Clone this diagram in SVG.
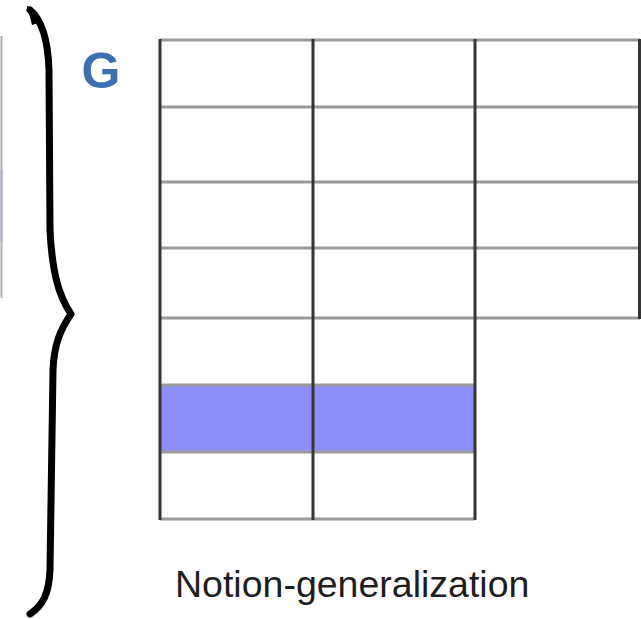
<svg xmlns="http://www.w3.org/2000/svg" width="641" height="619" viewBox="0 0 641 619">
  <style>
    .h { stroke: #9a9a9a; stroke-width: 3; }
    .v { stroke: #353535; stroke-width: 3; }
    .brace { fill: none; stroke: #000; stroke-width: 7; stroke-linecap: round; stroke-linejoin: round; }
    .label { font-family: "Liberation Sans", Arial, sans-serif; }
  </style>
  <rect width="641" height="619" fill="#fff"/>

  <!-- edge of the neighbouring table -->
  <g id="left-edge">
    <rect x="0" y="170" width="3" height="72" fill="#d8d8f4"/>
    <line x1="1.5" y1="36" x2="1.5" y2="298" stroke="#b0b0b0" stroke-width="2"/>
  </g>

  <!-- curly brace -->
  <g id="brace">
    <path class="brace" d="M30 10 C42 20 48 40 49 70 L50 230 C52 270 58 295 71 314 C60 330 54 345 53 370 L50 570 C49 595 42 606 30 614"/>
    <path d="M27 6 C34 8 39 14 41 22 L32 25 C30 16 28 12 27 6 Z" fill="#000"/>
  </g>

  <!-- group label -->
  <g id="label-g">
    <text class="label" x="101" y="88" text-anchor="middle" font-size="50" font-weight="bold" fill="#3a70b2">G</text>
  </g>

  <!-- table grid -->
  <g id="table">
    <rect x="160" y="385" width="315" height="67" fill="#8e8efa"/>
    <line class="h" x1="160" y1="40" x2="640" y2="40"/>
    <line class="h" x1="160" y1="107" x2="640" y2="107"/>
    <line class="h" x1="160" y1="182" x2="640" y2="182"/>
    <line class="h" x1="160" y1="248" x2="640" y2="248"/>
    <line class="h" x1="160" y1="318" x2="640" y2="318"/>
    <line class="h" x1="160" y1="385" x2="475" y2="385" stroke="#7a7ad8"/>
    <line class="h" x1="160" y1="452" x2="475" y2="452" stroke="#7a7ad8"/>
    <line class="h" x1="160" y1="519" x2="475" y2="519"/>
    <line class="v" x1="160" y1="39" x2="160" y2="520"/>
    <line class="v" x1="313" y1="39" x2="313" y2="520"/>
    <line class="v" x1="475" y1="39" x2="475" y2="520"/>
    <line class="v" x1="639.5" y1="39" x2="639.5" y2="319"/>
  </g>

  <!-- caption -->
  <g id="caption">
    <text class="label" x="175" y="597" font-size="37.5" fill="#1e1e1e">Notion-generalization</text>
  </g>
</svg>
